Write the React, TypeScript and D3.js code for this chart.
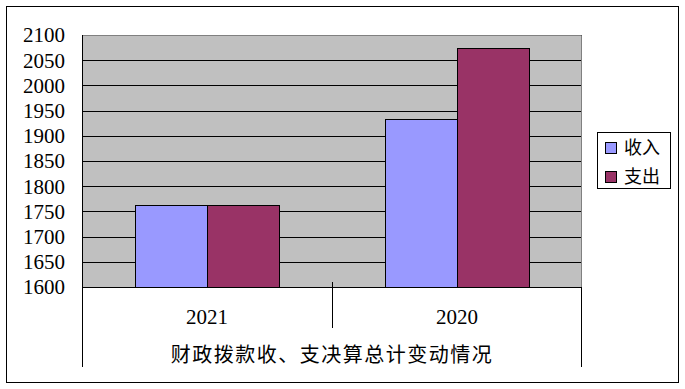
import React from 'react';
import * as d3 from 'd3';

// chart data
const categories = ['2021', '2020'];
const seriesNames = ['收入', '支出'];
const incomeValues = [1762, 1933];
const expenseValues = [1762, 2074];
const seriesColors = ['#9999FF', '#993366'];
const axisTitle = '财政拨款收、支决算总计变动情况';

const App = () => {
  const width = 685;
  const height = 389;

  // plot area
  const left = 82;
  const right = 582;
  const top = 35;
  const bottom = 287;

  const y = d3.scaleLinear().domain([1600, 2100]).range([bottom, top]);
  const x = d3.scaleBand().domain(categories).range([left, right]).padding(0);
  const xs = d3.scaleBand()
    .domain(seriesNames)
    .range([0, x.bandwidth()])
    .paddingInner(0)
    .paddingOuter(0.736);

  const series = [incomeValues, expenseValues];
  const ticks = y.ticks(10);
  const serif = '"Liberation Serif", "Times New Roman", serif';
  const cjk = '"Noto Sans CJK SC", sans-serif';

  return (
    <svg
      width={width}
      height={height}
      style={{ position: 'absolute', left: 0, top: 0, background: '#fff' }}
    >
      <rect x={6.5} y={6.5} width={672} height={376} fill="#fff" stroke="#000" strokeWidth={1} />

      {/* plot background */}
      <rect x={left} y={top} width={right - left} height={bottom - top} fill="#C0C0C0" />

      {/* gridlines */}
      {ticks.map(t => (
        <line key={t} x1={left} x2={right} y1={Math.round(y(t)) + 0.5} y2={Math.round(y(t)) + 0.5} stroke="#000" strokeWidth={1} />
      ))}

      {/* plot border (top/right) */}
      <path d={`M${left},${top + 0.5}H${right - 0.5}V${bottom}`} fill="none" stroke="#808080" strokeWidth={1} />

      {/* bars */}
      {categories.map((c, i) =>
        series.map((vals, s) => {
          const bx = (x(c) as number) + (xs(seriesNames[s]) as number);
          const by = y(vals[i]);
          return (
            <rect
              key={c + s}
              x={Math.round(bx) + 0.5}
              y={Math.round(by) + 0.5}
              width={Math.round(xs.bandwidth())}
              height={Math.round(bottom - by)}
              fill={seriesColors[s]}
              stroke="#000"
              strokeWidth={1}
            />
          );
        })
      )}

      {/* value axis */}
      <line x1={left + 0.5} x2={left + 0.5} y1={top} y2={bottom} stroke="#000" />
      {ticks.map(t => (
        <text
          key={'l' + t}
          x={65}
          y={y(t)}
          dy="0.35em"
          textAnchor="end"
          fontFamily={serif}
          fontSize={21}
          fill="#000"
        >
          {t}
        </text>
      ))}

      {/* category axis */}
      <line x1={left} x2={right} y1={bottom + 0.5} y2={bottom + 0.5} stroke="#000" />
      <line x1={left + 0.5} x2={left + 0.5} y1={bottom} y2={367} stroke="#000" />
      <line x1={right - 0.5} x2={right - 0.5} y1={bottom} y2={367} stroke="#000" />
      {categories.slice(1).map(c => (
        <line key={'t' + c} x1={(x(c) as number) + 0.5} x2={(x(c) as number) + 0.5} y1={282} y2={328} stroke="#000" />
      ))}
      {categories.map(c => (
        <text
          key={'c' + c}
          x={(x(c) as number) + x.bandwidth() / 2}
          y={324}
          textAnchor="middle"
          fontFamily={serif}
          fontSize={21}
          fill="#000"
        >
          {c}
        </text>
      ))}
      <text
        x={(left + right) / 2}
        y={362}
        textAnchor="middle"
        fontFamily={cjk}
        fontSize={20}
        letterSpacing={1.5}
        fill="#000"
      >
        {axisTitle}
      </text>

      {/* legend */}
      <rect x={597.5} y={132.5} width={73} height={56} fill="#fff" stroke="#000" />
      {seriesNames.map((n, i) => (
        <g key={n} transform={`translate(0, ${i * 29})`}>
          <rect x={605.5} y={142.5} width={11} height={11} fill={seriesColors[i]} stroke="#000" />
          <text x={624} y={148} dy="0.36em" fontFamily={cjk} fontSize={18} fill="#000">
            {n}
          </text>
        </g>
      ))}
    </svg>
  );
};

export default App;
